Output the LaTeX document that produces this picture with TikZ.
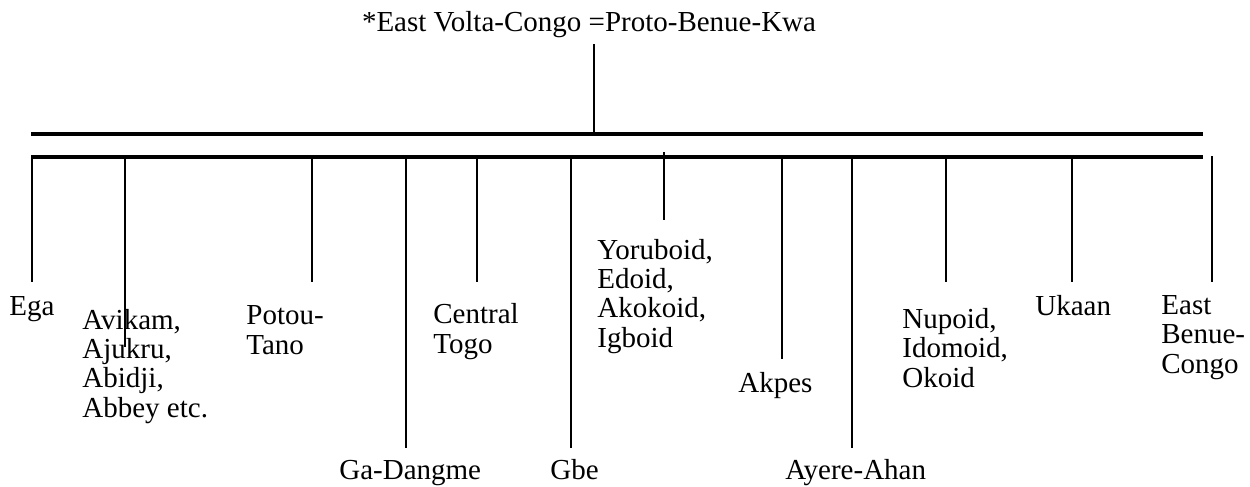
\documentclass[tikz,border=0pt]{standalone}
\usepackage{fontspec}
\setmainfont{Liberation Serif}
\begin{document}
\begin{tikzpicture}[x=0.5pt,y=-0.5pt,
  lbl/.style={anchor=base west,inner sep=0pt,align=left,font=\fontsize{14.5pt}{14.65pt}\selectfont},
  bar/.style={line width=1.75pt},
  branch/.style={line width=1pt}]
\useasboundingbox (0,0) rectangle (1250,487);
% title
\node[lbl,anchor=base] (root) at (589,32) {*East Volta-Congo =Proto-Benue-Kwa};
% bars
\coordinate (r1) at (594,44);
\coordinate (b1l) at (31,134);
\coordinate (b1r) at (1203,134);
\coordinate (b1m) at (594,134);
\coordinate (b2l) at (31,157);
\coordinate (b2r) at (1203,157);
\draw[branch] (r1) -- (b1m);
\draw[bar] (b1l) -- (b1r);
\draw[bar] (b2l) -- (b2r);
% labels (anchored at the baseline of their last line)
\node[lbl] (ega) at (9,315) {Ega};
\node[lbl] (avi) at (82,417) {Avikam,\\Ajukru,\\Abidji,\\Abbey etc.};
\node[lbl] (pot) at (246,354) {Potou-\\Tano};
\node[lbl] (gad) at (339,479) {Ga-Dangme};
\node[lbl] (cen) at (433,353) {Central\\Togo};
\node[lbl] (gbe) at (550,479) {Gbe};
\node[lbl] (yor) at (597,347) {Yoruboid,\\Edoid,\\Akokoid,\\Igboid};
\node[lbl] (akp) at (738,392) {Akpes};
\node[lbl] (aye) at (785,479) {Ayere-Ahan};
\node[lbl] (nup) at (902,387) {Nupoid,\\Idomoid,\\Okoid};
\node[lbl] (uka) at (1035,315) {Ukaan};
\node[lbl] (ebc) at (1161,373) {East\\Benue-\\Congo};
% branch endpoints
\foreach \n/\x/\ya/\yb in {ega/32/157/282, avi/125/157/347, pot/312/157/282,
  gad/406/157/448, cen/477/157/282, gbe/571/157/448, yor/664/152/220,
  akp/782/157/359, aye/852/157/448, nup/946/157/282, uka/1072/157/282,
  ebc/1212/156/282}{
  \coordinate (\n-top) at (\x,\ya);
  \coordinate (\n-end) at (\x,\yb);
  \draw[branch] (\n-top) -- (\n-end);
}
\end{tikzpicture}
\end{document}
